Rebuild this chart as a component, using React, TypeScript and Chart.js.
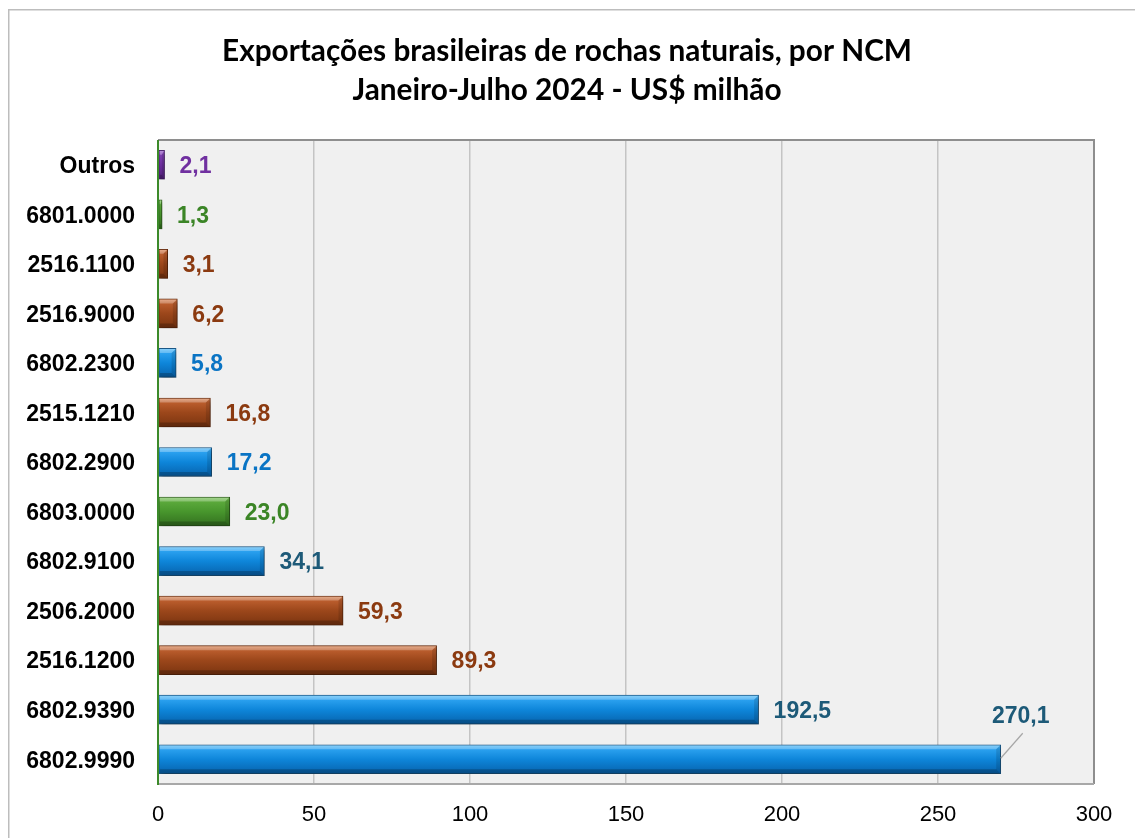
import React, { useEffect, useRef } from 'react';
import { Chart, registerables } from 'chart.js';

Chart.register(...registerables);

const titleLines = [
  'Exportações brasileiras de rochas naturais, por NCM',
  'Janeiro-Julho 2024 - US$ milhão',
];

const categories = [
  'Outros',
  '6801.0000',
  '2516.1100',
  '2516.9000',
  '6802.2300',
  '2515.1210',
  '6802.2900',
  '6803.0000',
  '6802.9100',
  '2506.2000',
  '2516.1200',
  '6802.9390',
  '6802.9990',
];

const values = [2.1, 1.3, 3.1, 6.2, 5.8, 16.8, 17.2, 23.0, 34.1, 59.3, 89.3, 192.5, 270.1];

const barGroups = [
  'purple', 'green', 'brown', 'brown', 'blue', 'brown', 'blue',
  'green', 'blue', 'brown', 'brown', 'blue', 'blue',
];

const labelColors = [
  '#7030A0', '#3B8526', '#8B3A10', '#8B3A10', '#0A74C4', '#8B3A10', '#0A74C4',
  '#3B8526', '#1D5A78', '#8B3A10', '#8B3A10', '#1D5A78', '#1D5A78',
];

const xTicks = [0, 50, 100, 150, 200, 250, 300];

const palettes: Record<string, { stops: [number, string][]; border: string }> = {
  blue: {
    stops: [[0, '#5BC0FA'], [0.14, '#2CA2F0'], [0.5, '#0E86DA'], [1, '#0762AC']],
    border: '#1B5A8A',
  },
  brown: {
    stops: [[0, '#DE8F62'], [0.14, '#BC5E2E'], [0.5, '#9C471B'], [1, '#7A3410']],
    border: '#6A2C0C',
  },
  green: {
    stops: [[0, '#82C862'], [0.14, '#5CAA3C'], [0.5, '#48962D'], [1, '#336F1F']],
    border: '#2D5C1B',
  },
  purple: {
    stops: [[0, '#A064CE'], [0.14, '#8040B2'], [0.5, '#6D2E9E'], [1, '#51207A']],
    border: '#481C6C',
  },
};

const BAR_T = 29;
const FONT = "'Liberation Sans', Arial, Helvetica, sans-serif";

function fmt(v: number) {
  return v.toFixed(1).replace('.', ',');
}

function barFill(c: any) {
  const i = c.dataIndex;
  if (i == null) return '#0E86DA';
  const pal = palettes[barGroups[i]];
  const ys = c.chart.scales && c.chart.scales.y;
  if (!ys) return pal.stops[2][1];
  const yc = ys.getPixelForValue(i);
  if (!Number.isFinite(yc)) return pal.stops[2][1];
  const g = c.chart.ctx.createLinearGradient(0, yc - BAR_T / 2, 0, yc + BAR_T / 2);
  pal.stops.forEach(([o, col]) => g.addColorStop(o, col));
  return g;
}

const decor = {
  id: 'decor',
  beforeDraw(chart: any) {
    const { ctx, chartArea: a } = chart;
    ctx.save();
    ctx.fillStyle = '#ffffff';
    ctx.fillRect(0, 0, chart.width, chart.height);
    ctx.strokeStyle = '#BDBDBD';
    ctx.lineWidth = 1.5;
    ctx.beginPath();
    ctx.moveTo(8.75, chart.height);
    ctx.lineTo(8.75, 9.75);
    ctx.lineTo(chart.width, 9.75);
    ctx.stroke();
    ctx.fillStyle = '#F0F0F0';
    ctx.fillRect(a.left, a.top, a.right - a.left, a.bottom - a.top);
    // title
    ctx.fillStyle = '#000000';
    ctx.textAlign = 'center';
    ctx.textBaseline = 'alphabetic';
    ctx.font = "bold 26px Lato, 'Open Sans', sans-serif";
    const w = ctx.measureText(titleLines[0]).width;
    const size = w > 0 ? (26 * 690) / w : 26;
    ctx.font = `bold ${size.toFixed(2)}px Lato, 'Open Sans', sans-serif`;
    ctx.fillText(titleLines[0], 567, 61);
    ctx.fillText(titleLines[1], 567, 99.5);
    ctx.restore();
  },
  beforeDatasetsDraw(chart: any) {
    const ctx = chart.ctx;
    ctx.save();
    ctx.shadowColor = 'rgba(0,0,0,0.35)';
    ctx.shadowBlur = 5;
    ctx.shadowOffsetX = 2;
    ctx.shadowOffsetY = 3;
  },
  afterDatasetsDraw(chart: any) {
    const { ctx, chartArea: a } = chart;
    ctx.restore();
    const meta = chart.getDatasetMeta(0);
    const b = 4;
    ctx.save();
    meta.data.forEach((el: any) => {
      const p = el.getProps(['x', 'y', 'base', 'height'], true);
      const L = p.base + 1;
      const R = p.x - 0.5;
      const T = p.y - p.height / 2 + 0.5;
      const B = p.y + p.height / 2 - 0.5;
      const bb = Math.min(b, (R - L) / 2);
      ctx.fillStyle = 'rgba(255,255,255,0.28)';
      ctx.beginPath();
      ctx.moveTo(L, T);
      ctx.lineTo(R, T);
      ctx.lineTo(R - bb, T + b);
      ctx.lineTo(L, T + b);
      ctx.closePath();
      ctx.fill();
      ctx.fillStyle = 'rgba(0,0,0,0.22)';
      ctx.beginPath();
      ctx.moveTo(L, B);
      ctx.lineTo(R, B);
      ctx.lineTo(R - bb, B - b);
      ctx.lineTo(L, B - b);
      ctx.closePath();
      ctx.fill();
      ctx.fillStyle = 'rgba(0,0,0,0.12)';
      ctx.beginPath();
      ctx.moveTo(R, T);
      ctx.lineTo(R, B);
      ctx.lineTo(R - bb, B - b);
      ctx.lineTo(R - bb, T + b);
      ctx.closePath();
      ctx.fill();
    });
    ctx.restore();

    // plot frame
    ctx.save();
    ctx.strokeStyle = '#8E8E8E';
    ctx.lineWidth = 2;
    ctx.beginPath();
    ctx.moveTo(a.left, a.top);
    ctx.lineTo(a.right, a.top);
    ctx.lineTo(a.right, a.bottom);
    ctx.stroke();
    ctx.strokeStyle = '#A8A8A8';
    ctx.beginPath();
    ctx.moveTo(a.left, a.bottom);
    ctx.lineTo(a.right, a.bottom);
    ctx.stroke();
    ctx.strokeStyle = '#3C8A2A';
    ctx.beginPath();
    ctx.moveTo(a.left, a.top);
    ctx.lineTo(a.left, a.bottom + 1);
    ctx.stroke();
    ctx.restore();

    // value labels
    ctx.save();
    ctx.font = `bold 23px ${FONT}`;
    ctx.textBaseline = 'middle';
    const last = values.length - 1;
    meta.data.forEach((el: any, i: number) => {
      const p = el.getProps(['x', 'y'], true);
      ctx.fillStyle = labelColors[i];
      if (i === last) {
        ctx.strokeStyle = '#A6A6A6';
        ctx.lineWidth = 1.2;
        ctx.beginPath();
        ctx.moveTo(p.x, p.y - 1);
        ctx.lineTo(p.x + 22, p.y - 26);
        ctx.stroke();
        ctx.textAlign = 'center';
        ctx.fillText(fmt(values[i]), p.x + 20, p.y - 43);
      } else {
        ctx.textAlign = 'left';
        ctx.fillText(fmt(values[i]), p.x + 15, p.y + 2);
      }
    });
    ctx.restore();
  },
};

export default function App() {
  const ref = useRef<HTMLCanvasElement | null>(null);

  useEffect(() => {
    if (!ref.current) return;
    const chart = new Chart(ref.current, {
      type: 'bar',
      data: {
        labels: categories,
        datasets: [
          {
            data: values,
            backgroundColor: barFill as any,
            borderColor: barGroups.map((g) => palettes[g].border),
            borderWidth: 1,
            borderSkipped: false,
            barThickness: BAR_T,
          },
        ],
      },
      options: {
        indexAxis: 'y',
        responsive: false,
        animation: false,
        devicePixelRatio: 1,
        layout: { padding: { left: 0, right: 41, top: 140, bottom: 0 } },
        plugins: {
          legend: { display: false },
          title: { display: false },
          tooltip: { enabled: false },
        },
        scales: {
          x: {
            type: 'linear',
            min: 0,
            max: 300,
            afterBuildTicks: (s: any) => {
              s.ticks = xTicks.map((v) => ({ value: v }));
            },
            afterFit: (s: any) => {
              s.height = 54;
            },
            ticks: {
              color: '#000000',
              font: { family: FONT, size: 22 },
              padding: 18,
              maxRotation: 0,
            },
            grid: {
              drawTicks: false,
              color: (c: any) =>
                c.tick && (c.tick.value === 0 || c.tick.value === 300) ? 'rgba(0,0,0,0)' : '#C4C4C4',
              lineWidth: 1.5,
            },
            border: { display: false },
          },
          y: {
            afterFit: (s: any) => {
              s.width = 158;
            },
            ticks: {
              color: '#000000',
              font: { family: FONT, size: 23, weight: 'bold' },
              padding: 23,
              labelOffset: 2,
            },
            grid: { display: false, drawTicks: false },
            border: { display: false },
          },
        },
      },
      plugins: [decor],
    });
    return () => chart.destroy();
  }, []);

  return (
    <div
      style={{
        position: 'fixed',
        left: 0,
        top: 0,
        width: 1135,
        height: 838,
        background: '#ffffff',
        overflow: 'hidden',
      }}
    >
      <canvas ref={ref} width={1135} height={838} style={{ display: 'block', width: 1135, height: 838 }} />
    </div>
  );
}
